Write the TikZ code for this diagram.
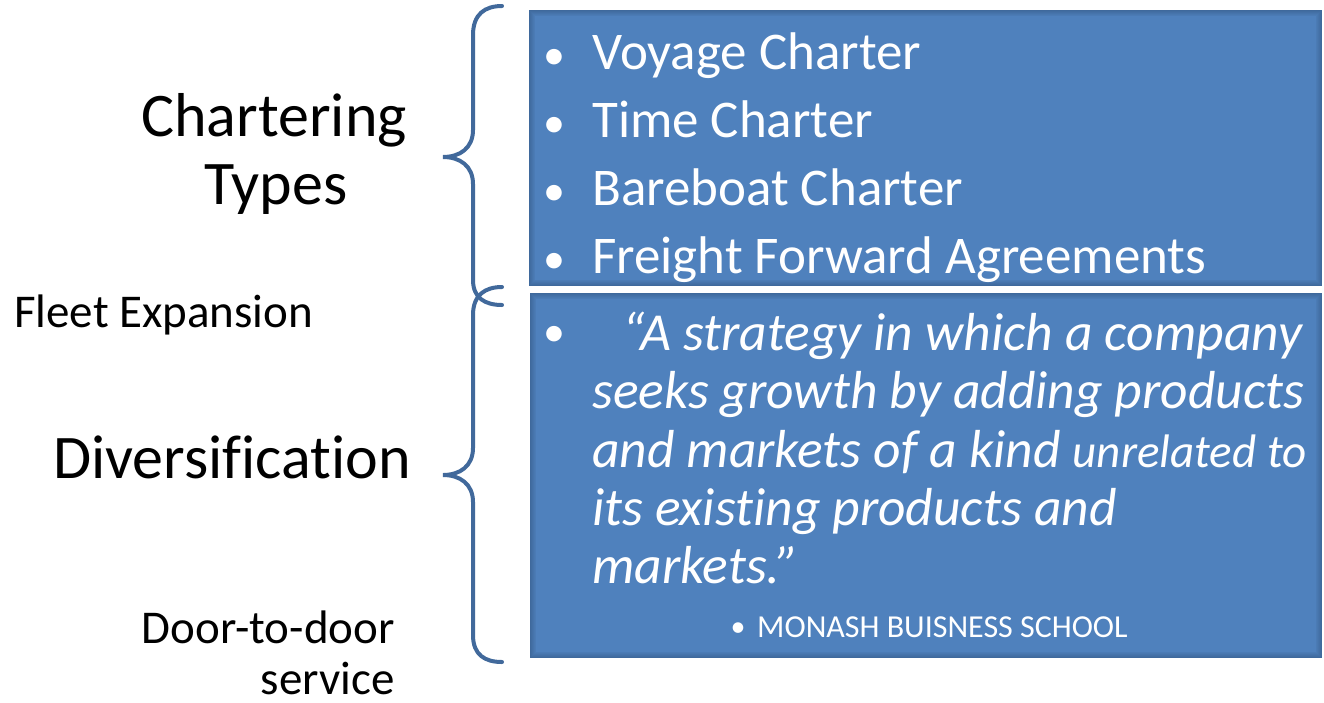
\documentclass[tikz,border=0pt]{standalone}
\usepackage{fontspec}
\setmainfont{Carlito}[Ligatures={TeX,NoCommon}]
\definecolor{boxblue}{HTML}{4F81BD}
\definecolor{edgeblue}{HTML}{2C4D75}
\definecolor{braceblue}{HTML}{41699B}

\begin{document}
\begin{tikzpicture}[x=1pt,y=-1pt]
    \tikzstyle{title}=[inner sep=0pt, anchor=base, font=\fontsize{62}{68}\selectfont]
    \tikzstyle{side}=[inner sep=0pt, font=\fontsize{47}{57}\selectfont]
    \tikzstyle{item}=[inner sep=0pt, anchor=base west, text=white, font=\fontsize{53}{68}\selectfont]
    \tikzstyle{quote}=[item, font=\fontsize{53.5}{58}\selectfont\itshape]
    \tikzstyle{dot}=[inner sep=0pt, anchor=base, text=white, font=\fontsize{44}{50}\selectfont]
    \tikzstyle{brace}=[draw=braceblue, line width=4pt, line cap=round]

    \useasboundingbox (0,0) rectangle (1324,702);

    % Draw the two blue boxes
    \fill[boxblue] (529,10) rectangle (1322,286);
    \fill[boxblue] (530,293) rectangle (1322,658);
    % soft inner shadow along the edges
    \foreach \i in {0,...,5}
    {
        \draw[edgeblue, opacity=0.45-0.07*\i, line width=1pt]
            (529.5+\i,10.5+\i) rectangle (1321.5-\i,285.5-\i);
        \draw[edgeblue, opacity=0.45-0.07*\i, line width=1pt]
            (530.5+\i,293.5+\i) rectangle (1321.5-\i,657.5-\i);
    }

    % Draw the braces
    \path[brace] (502,6) .. controls (485,6) and (473,14) .. (473,35)
        -- (473,130) .. controls (473,148) and (460,157) .. (443,157)
        .. controls (460,157) and (473,166) .. (473,184)
        -- (473,280) .. controls (473,298) and (485,305) .. (502,305);
    \path[brace] (502,287) .. controls (485,287) and (473,295) .. (473,315)
        -- (473,448) .. controls (473,466) and (460,475) .. (443,475)
        .. controls (460,475) and (473,484) .. (473,502)
        -- (473,635) .. controls (473,655) and (485,662) .. (502,662);

    % Left labels
    \node[title] (chartering) at (274,136) {Chartering};
    \node[title] (types) at (276,204) {Types};
    \node[side, anchor=base west] (fleet) at (14,327) {Fleet Expansion};
    \node[title] (divers) at (232,478) {Diversification};
    \node[side, anchor=base east] (door) at (395,643) {Door-to-door};
    \node[side, anchor=base east] (service) at (395,694) {service};

    % Charter types in the upper box
    \foreach \name/\y/\txt in {1/69/Voyage Charter, 2/137/Time Charter,
                               3/205/Bareboat Charter, 4/273/Freight Forward Agreements}
    {
        \node[dot] (D-\name) at (554,\y) {•};
        \node[item] (C-\name) at (592,\y) {\txt};
    }

    % The quote in the lower box
    \node[dot] (D-5) at (554,346) {•};
    \node[quote] (Q-1) at (622,350) {“A strategy in which a company};
    \node[quote] (Q-2) at (592,408) {seeks growth by adding products};
    \node[quote] (Q-3) at (592,467) {and markets of a kind {\fontsize{47}{58}\selectfont unrelated to}};
    \node[quote] (Q-4) at (592,525) {its existing products and};
    \node[quote] (Q-5) at (592,583) {markets.”};

    % Source
    \node[dot, font=\fontsize{30}{38}\selectfont] (D-6) at (738,636) {•};
    \node[item, font=\fontsize{32}{38}\selectfont] (src) at (757,637) {MONASH BUISNESS SCHOOL};
\end{tikzpicture}
\end{document}
